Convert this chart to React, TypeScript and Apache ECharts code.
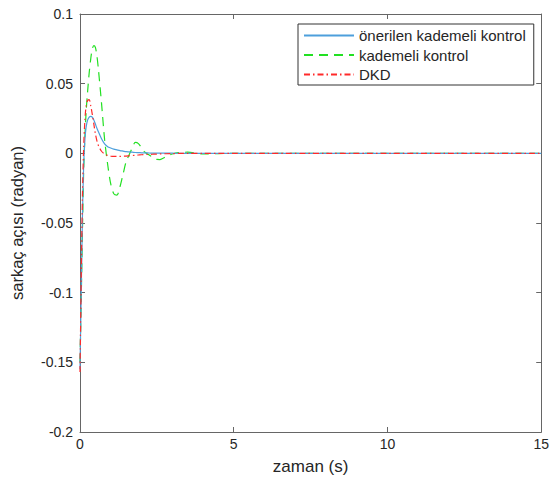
import React, { useEffect, useRef } from "react";
import * as echarts from "echarts";

const timeS = [0, 0.04, 0.08, 0.12, 0.16, 0.2, 0.25, 0.3, 0.35, 0.4, 0.45, 0.5, 0.55, 0.6, 0.7, 0.8, 0.9, 1.0, 1.1, 1.2, 1.3, 1.4, 1.5, 1.6, 1.7, 1.8, 1.9, 2.0, 2.1, 2.2, 2.3, 2.4, 2.5, 2.6, 2.7, 2.8, 3.0, 3.2, 3.5, 4.0, 4.5, 5, 6, 8, 10, 12, 15];

const oneriLen = [-0.155, -0.1, -0.045, -0.008, 0.01, 0.019, 0.024, 0.026, 0.0265, 0.026, 0.024, 0.021, 0.018, 0.0155, 0.0105, 0.0068, 0.0048, 0.0038, 0.003, 0.0025, 0.002, 0.0016, 0.0012, 0.001, 0.0008, 0.0006, 0.0005, 0.0004, 0.0003, 0.0003, 0.0002, 0.0002, 0.0002, 0.0001, 0.0001, 0.0001, 0.0001, 0, 0, 0, 0, 0, 0, 0, 0, 0, 0];

const kademeli = [-0.15, -0.105, -0.055, -0.012, 0.012, 0.03, 0.045, 0.058, 0.068, 0.075, 0.0773, 0.076, 0.07, 0.06, 0.036, 0.01, -0.008, -0.022, -0.029, -0.03, -0.024, -0.015, -0.006, -0.001, 0.004, 0.0078, 0.007, 0.004, 0.001, -0.0005, -0.002, -0.0035, -0.0044, -0.0045, -0.0035, -0.0025, -0.0005, 0.0005, 0.0008, -0.0004, -0.0002, 0, 0, 0, 0, 0, 0];

const dkd = [-0.157, -0.09, -0.03, 0.005, 0.024, 0.034, 0.038, 0.0385, 0.034, 0.028, 0.021, 0.014, 0.009, 0.0055, 0.0015, -0.0005, -0.0015, -0.002, -0.0022, -0.0022, -0.0022, -0.0021, -0.002, -0.0018, -0.0016, -0.0014, -0.0012, -0.001, -0.0009, -0.0008, -0.0007, -0.0006, -0.0005, -0.0004, -0.0003, -0.0003, -0.0002, -0.0001, 0, 0, 0, 0, 0, 0, 0, 0, 0];

const seriesNames = ["önerilen kademeli kontrol", "kademeli kontrol", "DKD"];
const xTicks = [0, 15, 5];
const yRange = [-0.2, 0.1, 0.05];

const FONT = "Liberation Sans";
const AXIS = "#666666";
const TEXT = "#262626";

export default function App() {
  const ref = useRef<HTMLDivElement>(null);
  useEffect(() => {
    if (!ref.current) return;
    const chart = echarts.init(ref.current, undefined, { renderer: "svg" });
    const pairs = (vals: number[]) => timeS.map((t, i) => [t, vals[i]]);
    const axisCommon = {
      axisLine: { show: true, onZero: false, lineStyle: { color: AXIS, width: 1 } },
      axisTick: { show: true, inside: true, length: 5, lineStyle: { color: AXIS } },
      splitLine: { show: false },
    };
    chart.setOption({
      animation: false,
      backgroundColor: "#ffffff",
      textStyle: { fontFamily: FONT },
      grid: { left: 78, right: 10, top: 14, bottom: 47 },
      legend: {
        data: seriesNames,
        orient: "vertical",
        left: 298,
        top: 24,
        itemWidth: 50,
        itemHeight: 14,
        itemGap: 4.5,
        padding: [4, 8, 3, 5],
        borderColor: "#333333",
        borderWidth: 1,
        backgroundColor: "#ffffff",
        itemStyle: { opacity: 0 },
        textStyle: { fontFamily: FONT, fontSize: 15, color: TEXT },
      },
      xAxis: [
        {
          type: "value",
          min: xTicks[0],
          max: xTicks[1],
          interval: xTicks[2],
          position: "bottom",
          name: "zaman (s)",
          nameLocation: "middle",
          nameGap: 26,
          nameTextStyle: { fontFamily: FONT, fontSize: 17, color: TEXT },
          axisLabel: { fontFamily: FONT, fontSize: 14, color: TEXT, margin: 5 },
          ...axisCommon,
        },
        {
          type: "value",
          min: xTicks[0],
          max: xTicks[1],
          interval: xTicks[2],
          position: "top",
          axisLabel: { show: false },
          ...axisCommon,
        },
      ],
      yAxis: [
        {
          type: "value",
          min: yRange[0],
          max: yRange[1],
          interval: yRange[2],
          position: "left",
          name: "sarkaç açısı (radyan)",
          nameLocation: "middle",
          nameGap: 55,
          nameTextStyle: { fontFamily: FONT, fontSize: 16.5, color: TEXT },
          axisLabel: { fontFamily: FONT, fontSize: 14, color: TEXT, margin: 7 },
          ...axisCommon,
        },
        {
          type: "value",
          min: yRange[0],
          max: yRange[1],
          interval: yRange[2],
          position: "right",
          axisLabel: { show: false },
          ...axisCommon,
        },
      ],
      series: [
        {
          name: seriesNames[0],
          type: "line",
          data: pairs(oneriLen),
          showSymbol: false,
          symbol: "none",
          smooth: 0.3,
          lineStyle: { color: "#4d9fdc", width: 1.2, type: "solid" },
          itemStyle: { color: "#4d9fdc" },
          z: 3,
        },
        {
          name: seriesNames[1],
          type: "line",
          data: pairs(kademeli),
          showSymbol: false,
          symbol: "none",
          smooth: 0.3,
          lineStyle: { color: "#22e022", width: 1.2, type: [9, 6] },
          itemStyle: { color: "#22e022" },
          z: 2,
        },
        {
          name: seriesNames[2],
          type: "line",
          data: pairs(dkd),
          showSymbol: false,
          symbol: "none",
          smooth: 0.3,
          lineStyle: { color: "#ff2a2a", width: 1.2, type: [6, 3, 1.5, 3] },
          itemStyle: { color: "#ff2a2a" },
          z: 4,
        },
      ],
    });
    return () => chart.dispose();
  }, []);
  return <div ref={ref} style={{ width: 552, height: 480, position: "absolute", left: 0, top: 0 }} />;
}
